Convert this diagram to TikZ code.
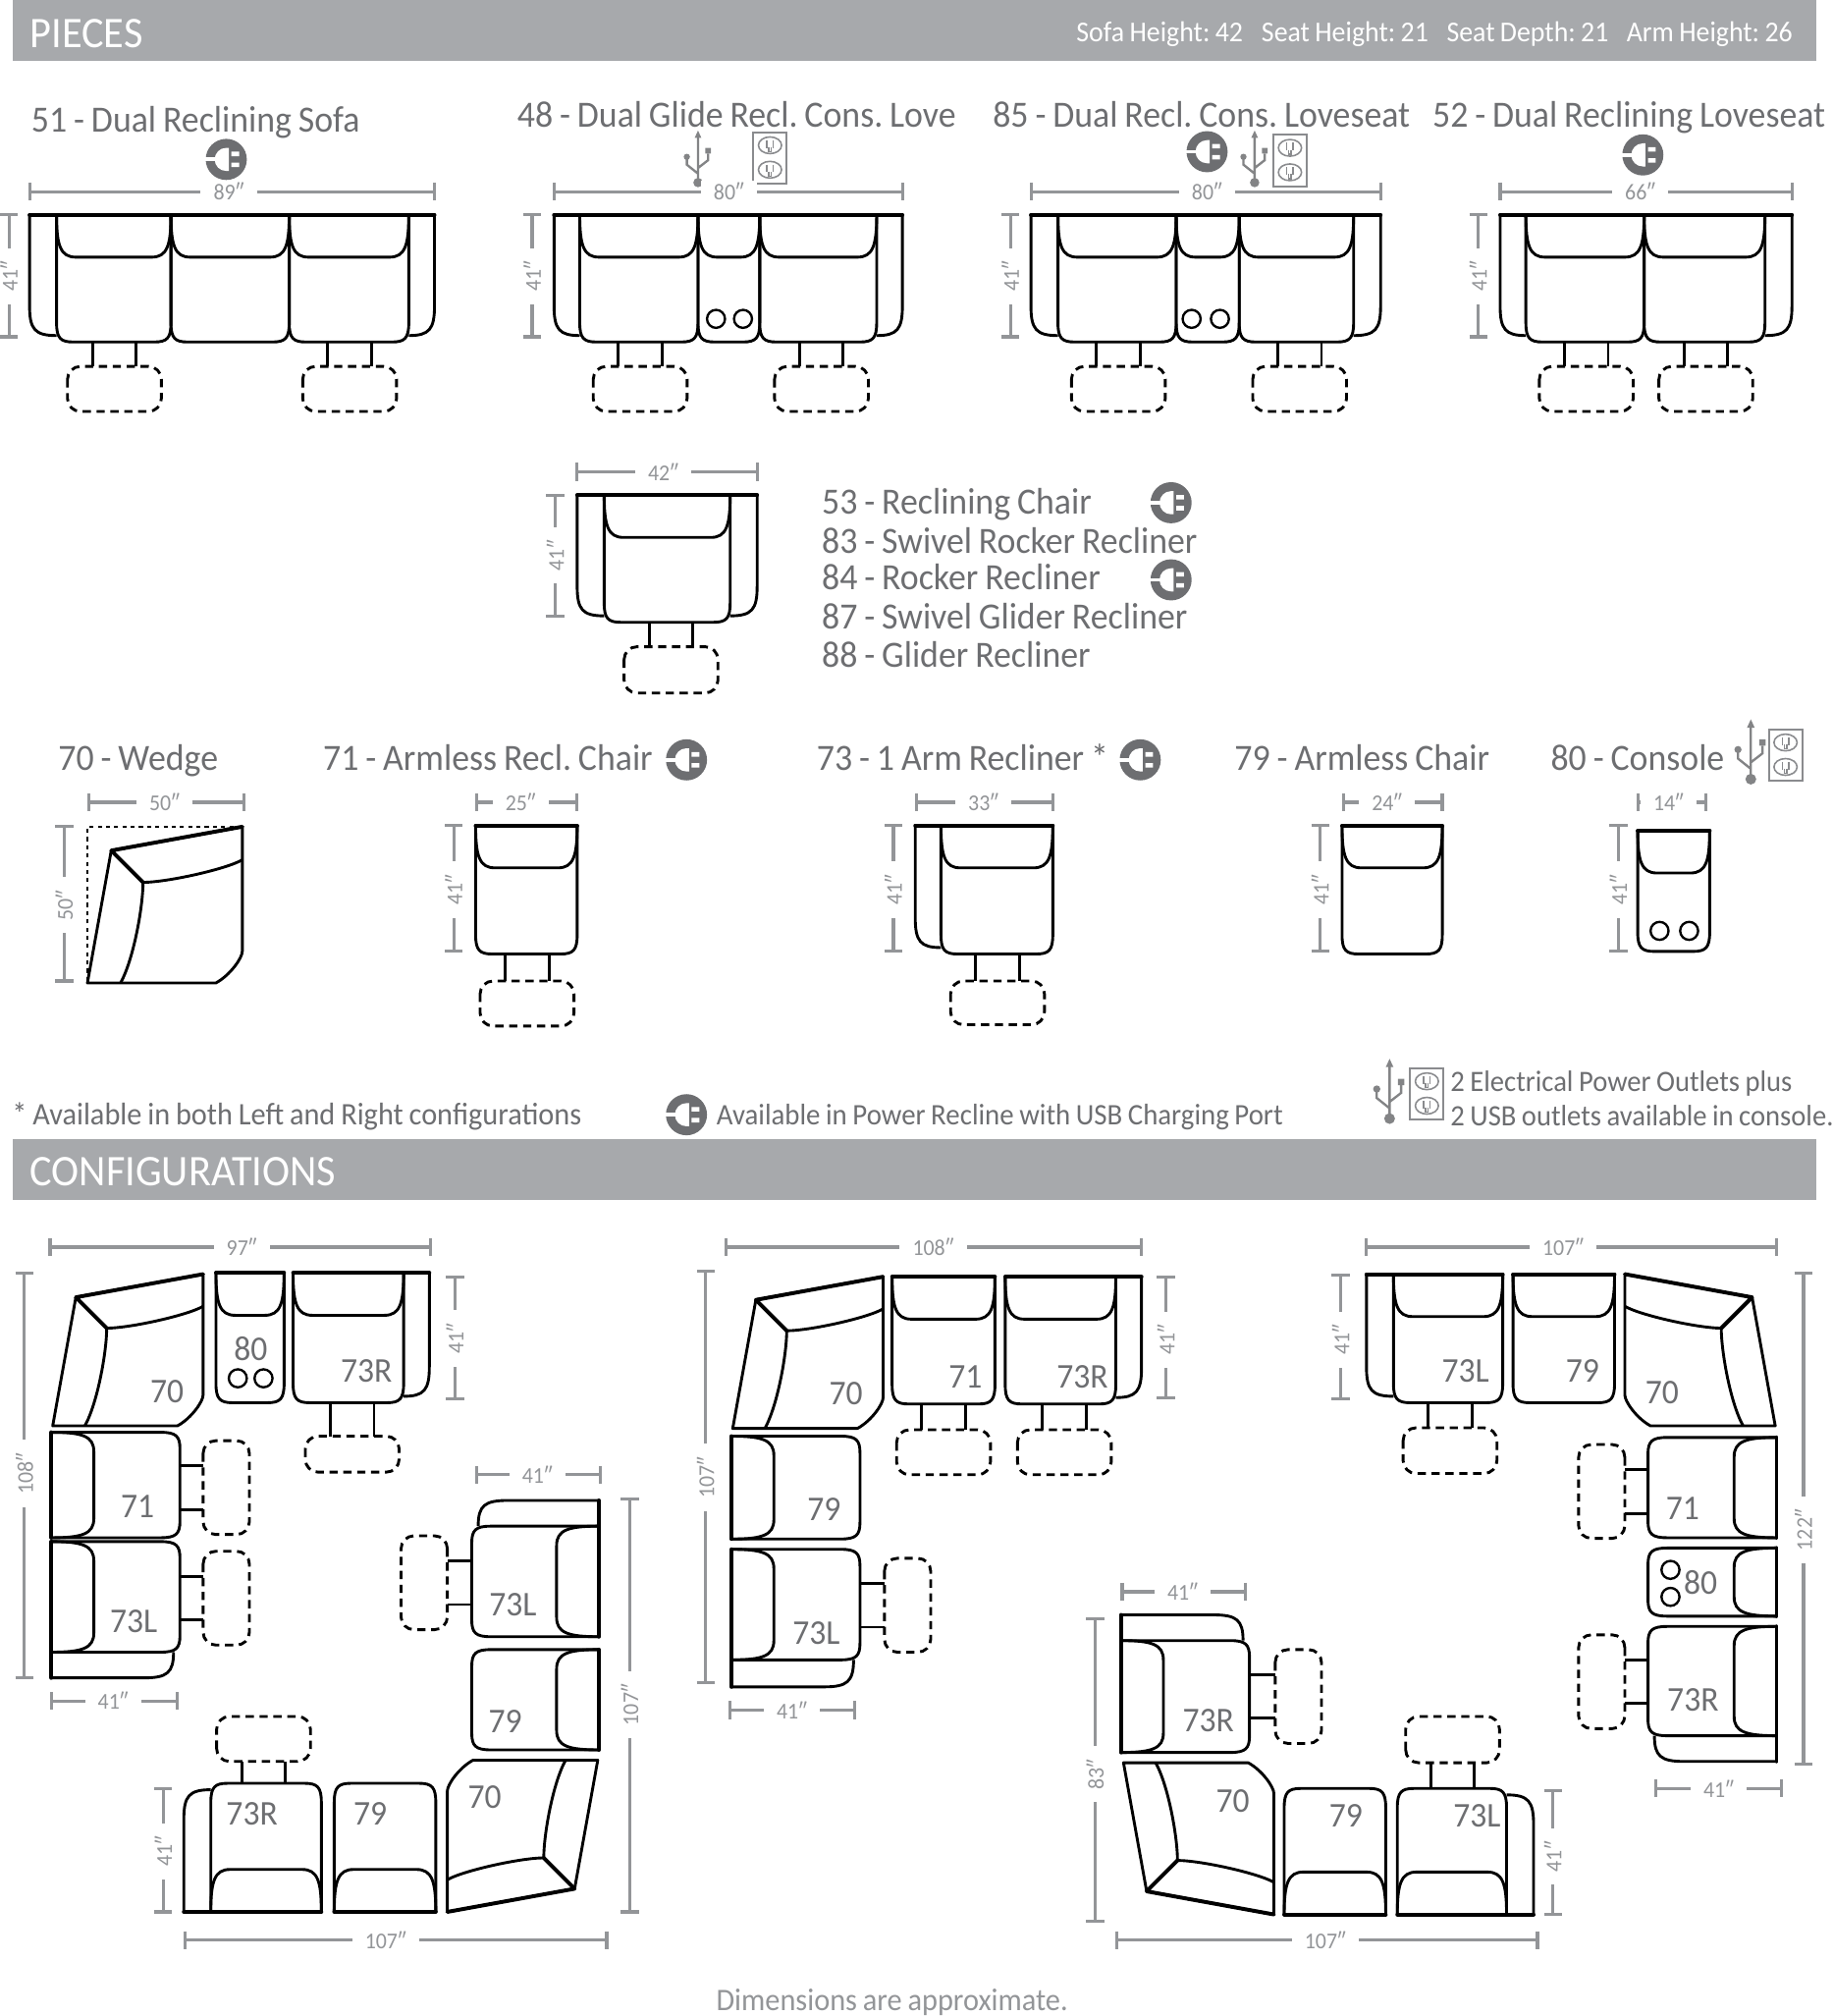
\documentclass[tikz,border=0pt]{standalone}
\usepackage{fontspec}
\setmainfont{Carlito}[WordSpace=0.85,FakeStretch=0.95]
\definecolor{bann}{HTML}{A7A9AC}
\definecolor{txtg}{HTML}{6D6E71}
\definecolor{dimg}{HTML}{939598}
\tikzset{
  ln/.style={draw=black,line width=1.1pt,line join=round},
  ltop/.style={draw=black,line width=1.5pt,line cap=round},
  dsh/.style={draw=black,line width=1.1pt,dash pattern=on 3.2pt off 2.2pt,rounded corners=5pt},
  dm/.style={draw=dimg,line width=1.2pt},
  dt/.style={fill=white,text=dimg,font=\fontsize{8.8}{10}\selectfont,inner xsep=5pt,inner ysep=1pt},
  ttl/.style={anchor=west,text=txtg,font=\fontsize{14.4}{16}\selectfont,inner sep=0pt,text height=1.12em,text depth=.22em},
  nt/.style={anchor=west,text=txtg,font=\fontsize{11.5}{13}\selectfont,inner sep=0pt,text height=1em,text depth=.22em},
  num/.style={text=txtg,font=\fontsize{13.5}{15}\selectfont,inner sep=0pt},
  hd/.style={anchor=west,text=white,inner sep=0pt,text height=1em,text depth=.22em},
}
\newcounter{nd}
\newcommand{\TT}[4]{\stepcounter{nd}\node[#1] (t\arabic{nd}) at (#2,#3) {#4};}
% seat: x y transforms W D armLeft armRight
\newcommand{\SEAT}[7]{\begin{scope}[shift={(#1,#2)},#3]
  \ifnum#6>0 \draw[ln] (0,0) -- (-#6,0) -- (-#6,{#5-28}) .. controls (-#6,{#5-10}) and ({-#6+4},{#5-5}) .. (0,{#5-5}); \draw[ltop] (0,0) -- (-#6,0);\fi
  \ifnum#7>0 \draw[ln] (#4,0) -- ({#4+#7},0) -- ({#4+#7},{#5-28}) .. controls ({#4+#7},{#5-10}) and ({#4+#7-4},{#5-5}) .. (#4,{#5-5}); \draw[ltop] (#4,0) -- ({#4+#7},0);\fi
  \draw[ln] (0,0) -- (#4,0) -- (#4,{#5-15}) .. controls (#4,{#5-3}) and ({#4-3},#5) .. ({#4-13},#5) -- (13,#5) .. controls (3,#5) and (0,{#5-3}) .. (0,{#5-15}) -- cycle;
  \draw[ln] (0,0) .. controls (0,24) and (3,33) .. (15,33) -- ({#4-15},33) .. controls ({#4-3},33) and (#4,24) .. (#4,0);
  \draw[ltop] (0,0) -- (#4,0);
\end{scope}}
\newcommand{\WEDGE}[3]{\begin{scope}[shift={(#1,#2)},#3]
  \draw[ln] (0,118) -- (18,18) -- (117,0) -- (117,94) .. controls (117,99) and (108,112) .. (97,118) -- cycle;
  \draw[ltop] (18,18) -- (117,0) (18,18) -- (42,42);
  \draw[ln] (42,42) .. controls (60,42) and (105,32) .. (117,25);
  \draw[ln] (42,42) .. controls (42,60) and (35,100) .. (25,118);
\end{scope}}
% vertical footrest: centre x, seat edge y, rest edges y1 y2
\newcommand{\FOOTV}[4]{
  \draw[ln] ({#1-17},#2) -- ({#1-17},#3) ({#1+17},#2) -- ({#1+17},#3);
  \draw[dsh] ({#1-36.5},#3) rectangle ({#1+36.5},#4);}
% horizontal footrest: centre y, seat edge x, rest edges x1 x2
\newcommand{\FOOTH}[4]{
  \draw[ln] (#2,{#1-17}) -- (#3,{#1-17}) (#2,{#1+17}) -- (#3,{#1+17});
  \draw[dsh] (#3,{#1-36.5}) rectangle (#4,{#1+36.5});}
\newcommand{\CUP}[2]{\draw[draw=black,line width=.9pt] (#1,#2) circle[radius=7];}
\newcommand{\DIMH}[5]{\draw[dm] (#1,{#3-7}) -- (#1,{#3+7}) (#1,#3) -- (#2,#3) (#2,{#3-7}) -- (#2,{#3+7});
  \TT{dt}{#4}{#3}{#5}}
\newcommand{\DIMV}[5]{\draw[dm] ({#3-7},#1) -- ({#3+7},#1) (#3,#1) -- (#3,#2) ({#3-7},#2) -- ({#3+7},#2);
  \TT{dt,rotate=90}{#3}{#4}{#5}}
\newcommand{\PLUG}[2]{\begin{scope}[shift={(#1,#2)}]
  \fill[txtg] (0,0) circle[radius=16];
  \fill[white] (-16.5,-1.5) rectangle (-6,1.5);
  \fill[white] (2,9) -- (0,9) arc[start angle=90,end angle=270,radius=9] -- (2,-9) -- cycle;
  \fill[white] (4,-6) rectangle (10,-2.5) (4,2.5) rectangle (10,6);
\end{scope}}
\newcommand{\USB}[3]{\begin{scope}[shift={(#1,#2)},scale=#3]
  \fill[txtg!85] (0,0) circle[radius=4.2];
  \draw[txtg!85,line width=.9pt] (0,0) -- (0,-42) (-10,-22) -- (-10,-16) -- (0,-8) (9,-26) -- (9,-20) -- (0,-13);
  \fill[txtg!85] (0,-46.5) -- (-3,-40) -- (3,-40) -- cycle (-10,-23) circle[radius=2.8] (6.5,-31) rectangle (11.5,-26);
\end{scope}}
\newcommand{\OUTS}[1]{\begin{scope}[shift={(0,#1)}]
  \draw[txtg!80,line width=.6pt] (0,0) ellipse[x radius=9,y radius=6.5];
  \draw[txtg!80,line width=.6pt] (-2.5,-4) -- (-2.5,2) (2.5,-4) -- (2.5,2) (-1,1.5) -- (-1,5) -- (1,5) -- (1,1.5);
\end{scope}}
\newcommand{\OUTLET}[2]{\begin{scope}[shift={(#1,#2)}]
  \draw[txtg!80,line width=.75pt] (-13,-20) rectangle (13,20);
  \OUTS{-10}\OUTS{9}
\end{scope}}
\begin{document}
\frenchspacing
\begin{tikzpicture}[x=0.5pt,y=-0.5pt]
\useasboundingbox (0,0) rectangle (1425.2,1568);
% banners
\fill[bann] (10,0) rectangle (1413,47);
\fill[bann] (10,886) rectangle (1413,933);
\TT{hd,font=\fontsize{17}{19}\selectfont}{23}{29.5}{PIECES}
\TT{hd,font=\fontsize{17}{19}\selectfont}{23}{914.5}{CONFIGURATIONS}
\TT{hd,font=\fontsize{11.2}{12}\selectfont}{837}{25}{Sofa Height: 42}
\TT{hd,font=\fontsize{11.2}{12}\selectfont}{981}{25}{Seat Height: 21}
\TT{hd,font=\fontsize{11.2}{12}\selectfont}{1125}{25}{Seat Depth: 21}
\TT{hd,font=\fontsize{11.2}{12}\selectfont}{1265}{25}{Arm Height: 26}
% titles
\TT{ttl}{24}{94}{51 - Dual Reclining Sofa}
\TT{ttl}{402}{90}{48 - Dual Glide Recl. Cons. Love}
\TT{ttl}{772}{90}{85 - Dual Recl. Cons. Loveseat}
\TT{ttl}{1114}{90}{52 - Dual Reclining Loveseat}
\PLUG{176}{124}
\USB{543}{142}{.87}\OUTLET{599}{123}
\PLUG{939}{118}
\USB{976}{142}{.87}\OUTLET{1003.5}{125}
\PLUG{1278}{120.5}
% 51
\SEAT{44}{167}{}{89}{99}{21}{0}
\SEAT{133}{167}{}{92}{99}{0}{0}
\SEAT{225}{167}{}{93}{99}{0}{20}
\FOOTV{89}{266}{285}{320}\FOOTV{272}{266}{285}{320}
\DIMH{23}{338}{149}{178}{89″}\DIMV{167}{262}{7}{215}{41″}
% 48
\SEAT{451}{167}{}{92}{99}{20}{0}
\SEAT{543}{167}{}{48}{99}{0}{0}
\SEAT{591}{167}{}{91}{99}{0}{20}
\CUP{557}{248}\CUP{578}{248}
\FOOTV{498}{266}{285}{320}\FOOTV{639}{266}{285}{320}
\DIMH{431}{702}{149}{567}{80″}\DIMV{167}{262}{414}{215}{41″}
% 85
\SEAT{823}{167}{}{92}{99}{21}{0}
\SEAT{915}{167}{}{49}{99}{0}{0}
\SEAT{964}{167}{}{89}{99}{0}{21}
\CUP{927}{248}\CUP{949}{248}
\FOOTV{870}{266}{285}{320}\FOOTV{1011}{266}{285}{320}
\DIMH{802}{1074}{149}{939}{80″}\DIMV{167}{262}{786}{215}{41″}
% 52
\SEAT{1187}{167}{}{92}{99}{20}{0}
\SEAT{1279}{167}{}{94}{99}{0}{21}
\FOOTV{1234}{266}{285}{320}\FOOTV{1327}{266}{285}{320}
\DIMH{1167}{1394}{149}{1276}{66″}\DIMV{167}{262}{1150}{215}{41″}
% chair 53
\SEAT{470}{385}{}{98}{99}{21}{21}
\FOOTV{522}{484}{503}{539}
\DIMH{449}{589}{367}{516}{42″}\DIMV{385}{479}{432}{432}{41″}
\TT{ttl}{639}{391}{53 - Reclining Chair}
\TT{ttl}{639}{421}{83 - Swivel Rocker Recliner}
\TT{ttl}{639}{450}{84 - Rocker Recliner}
\TT{ttl}{639}{480}{87 - Swivel Glider Recliner}
\TT{ttl}{639}{510}{88 - Glider Recliner}
\PLUG{911}{391}\PLUG{911}{451}
% row 3
\TT{ttl}{45}{590}{70 - Wedge}
\TT{ttl}{251}{590}{71 - Armless Recl. Chair}\PLUG{534}{591}
\TT{ttl}{635}{590}{73 - 1 Arm Recliner *}\PLUG{887}{591}
\TT{ttl}{960}{590}{79 - Armless Chair}
\TT{ttl}{1206}{590}{80 - Console}
\USB{1362}{606}{1}\OUTLET{1389}{587.5}
% wedge piece
\draw[black,line width=.6pt,dash pattern=on 1.6pt off 1.6pt] (68,763) -- (68,643) -- (189,643);
\WEDGE{68}{643}{scale=1.03}
\DIMH{69}{190}{624}{128}{50″}\DIMV{643}{763}{50}{704}{50″}
% 71
\SEAT{370}{642}{}{79}{100}{0}{0}
\FOOTV{410}{742}{763}{798}
\DIMH{371}{449}{624}{405}{25″}\DIMV{642}{740}{353}{692}{41″}
% 73
\SEAT{732}{642}{}{87}{100}{20}{0}
\FOOTV{776}{742}{763}{797}
\DIMH{713}{819}{624}{765}{33″}\DIMV{642}{740}{695}{692}{41″}
% 79
\SEAT{1044}{642}{}{78}{100}{0}{0}
\DIMH{1045}{1122}{624}{1079}{24″}\DIMV{642}{740}{1027}{692}{41″}
% 80
\SEAT{1274}{646}{}{56}{94}{0}{0}
\CUP{1291}{724}\CUP{1314}{724}
\DIMH{1274}{1327}{624}{1298}{14″}\DIMV{642}{740}{1259}{692}{41″}
% footnotes
\TT{nt,font=\fontsize{12.2}{13}\selectfont}{9}{867}{* Available in both Left and Right configurations}
\PLUG{534}{867}
\TT{nt,font=\fontsize{11.6}{13}\selectfont}{557}{867}{Available in Power Recline with USB Charging Port}
\USB{1081}{870}{1}\OUTLET{1110}{851}
\TT{nt}{1128}{841}{2 Electrical Power Outlets plus}
\TT{nt,font=\fontsize{11.5}{13}\selectfont}{1128}{868}{2 USB outlets available in console.}
% ------ config 1
\DIMH{39}{335}{970}{188}{97″}\DIMV{990}{1305}{19}{1146}{108″}
\DIMV{993}{1088}{354}{1041}{41″}\DIMH{40}{138}{1323}{88}{41″}
\WEDGE{41}{991}{}
\TT{num}{130}{1082}{70}
\SEAT{168}{990}{}{53}{101}{0}{0}\CUP{185}{1072}\CUP{205}{1072}
\TT{num}{195}{1049}{80}
\SEAT{228}{990}{}{86}{101}{0}{20}
\TT{num}{285}{1066}{73R}
\FOOTV{274}{1091}{1117}{1145}
\SEAT{40}{1196}{rotate=90}{82}{100}{0}{0}
\TT{num}{107}{1172}{71}
\FOOTH{1157}{140}{158}{194}
\SEAT{40}{1285}{rotate=90}{86}{100}{20}{0}
\TT{num}{104}{1261}{73L}
\FOOTH{1243}{140}{158}{194}
\SEAT{466}{1187}{rotate=-90}{86}{99}{20}{0}
\TT{num}{399}{1248}{73L}
\FOOTH{1231}{367}{348}{312}
\SEAT{466}{1283}{rotate=-90}{78}{99}{0}{0}
\TT{num}{393}{1339}{79}
\DIMH{371}{467}{1147}{418}{41″}\DIMV{1166}{1487}{490}{1326}{107″}
\WEDGE{465}{1487}{rotate=180}
\TT{num}{377}{1398}{70}
\SEAT{250}{1487}{rotate=180}{86}{100}{0}{21}
\TT{num}{196}{1411}{73R}
\FOOTV{205}{1387}{1370}{1335}
\SEAT{339}{1487}{rotate=180}{79}{100}{0}{0}
\TT{num}{288}{1411}{79}
\DIMV{1391}{1487}{127}{1440}{41″}\DIMH{144}{472}{1509}{300}{107″}
% ------ config 2
\DIMH{565}{888}{970}{726}{108″}\DIMV{989}{1309}{549}{1149}{107″}
\DIMV{993}{1087}{907}{1042}{41″}\DIMH{568}{665}{1330}{616}{41″}
\WEDGE{570}{993}{}
\TT{num}{658}{1084}{70}
\SEAT{694}{993}{}{80}{99}{0}{0}
\TT{num}{751}{1071}{71}
\FOOTV{734}{1092}{1112}{1147}
\SEAT{782}{993}{}{86}{99}{0}{20}
\TT{num}{842}{1071}{73R}
\FOOTV{828}{1092}{1112}{1147}
\SEAT{569}{1197}{rotate=90}{80}{100}{0}{0}
\TT{num}{641}{1174}{79}
\SEAT{569}{1291}{rotate=90}{86}{100}{21}{0}
\TT{num}{635}{1270}{73L}
\FOOTH{1248.5}{669}{688}{724}
% ------ config 3 upper
\DIMH{1063}{1382}{970}{1216}{107″}\DIMV{990}{1372}{1403}{1190}{122″}
\DIMV{992}{1088}{1043}{1042}{41″}\DIMH{1288}{1386}{1391}{1337}{41″}
\SEAT{1084}{991}{}{85}{100}{21}{0}
\TT{num}{1140}{1066}{73L}
\FOOTV{1128}{1091}{1110.5}{1146}
\SEAT{1177}{991}{}{79}{100}{0}{0}
\TT{num}{1231}{1066}{79}
\WEDGE{1381}{991}{xscale=-1}
\TT{num}{1293}{1083}{70}
\SEAT{1382}{1118}{rotate=-90}{78}{100}{0}{0}
\TT{num}{1309}{1173}{71}
\FOOTH{1160}{1282}{1264}{1228}
\SEAT{1382}{1204}{rotate=-90}{53}{100}{0}{0}
\CUP{1299.5}{1221}\CUP{1299.5}{1242}
\TT{num}{1323}{1231}{80}
\SEAT{1382}{1265}{rotate=-90}{85}{100}{0}{20}
\TT{num}{1317}{1322}{73R}
\FOOTH{1308}{1282}{1264}{1228}
% ------ config 3 lower
\DIMH{873}{969}{1238}{920}{41″}\DIMV{1259}{1494}{852}{1380}{83″}
\SEAT{872}{1363}{rotate=90}{87}{100}{0}{20}
\TT{num}{940}{1338}{73R}
\FOOTH{1319.5}{972}{992}{1028}
\WEDGE{874}{1489}{yscale=-1}
\TT{num}{959}{1401}{70}
\SEAT{1078}{1489}{rotate=180}{79}{98}{0}{0}
\TT{num}{1047}{1412}{79}
\SEAT{1172}{1489}{rotate=180}{85}{98}{21}{0}
\TT{num}{1149}{1412}{73L}
\FOOTV{1130}{1391}{1371}{1335}
\DIMV{1393}{1489}{1208}{1444}{41″}\DIMH{869}{1196}{1509}{1031}{107″}
% footer
\TT{hd,text=dimg,anchor=center,font=\fontsize{12.2}{13}\selectfont}{694}{1556}{Dimensions are approximate.}
\end{tikzpicture}
\end{document}
